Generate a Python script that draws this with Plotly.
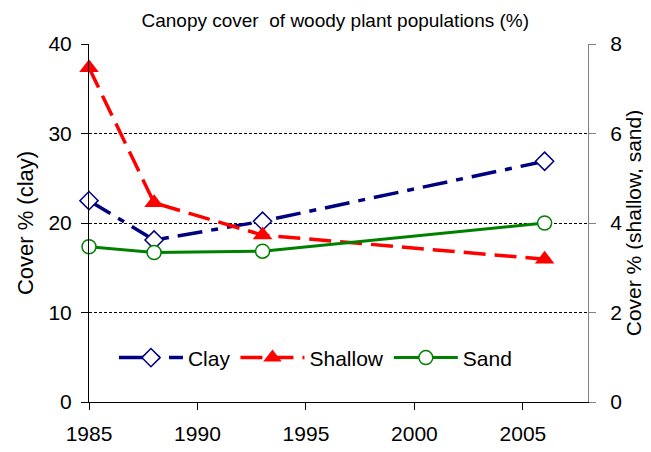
import plotly.graph_objects as go

years = [1985, 1988, 1993, 2006]
clay = [22.5, 18.1, 20.2, 26.9]
shallow = [7.47, 4.45, 3.73, 3.19]
sand = [3.47, 3.34, 3.37, 4.0]

font = "Liberation Sans, Arial, sans-serif"

fig = go.Figure()
fig.add_trace(go.Scatter(
    x=years, y=clay, name="Clay", mode="lines+markers", yaxis="y",
    line=dict(color="#000080", width=3.5, dash="25px,9px,7px,9px"),
    marker=dict(symbol="diamond", size=14, color="white",
                line=dict(color="#000080", width=1.5)),
    cliponaxis=False))
fig.add_trace(go.Scatter(
    x=years, y=shallow, name="Shallow", mode="lines+markers", yaxis="y2",
    line=dict(color="#FF0000", width=3.5, dash="22px,9px"),
    marker=dict(symbol="triangle-up", size=17, color="#FF0000"),
    cliponaxis=False))
fig.add_trace(go.Scatter(
    x=years, y=sand, name="Sand", mode="lines+markers", yaxis="y2",
    line=dict(color="#008000", width=3),
    marker=dict(symbol="circle", size=14, color="white",
                line=dict(color="#008000", width=1.5)),
    cliponaxis=False))

fig.update_layout(
    width=643, height=444,
    margin=dict(l=81, r=63, t=36, b=50),
    paper_bgcolor="white", plot_bgcolor="white",
    font=dict(family=font, size=21, color="black"),
    title=dict(text="Canopy cover  of woody plant populations (%)",
               x=0.509, xanchor="center", y=0.973, yanchor="middle",
               font=dict(size=19)),
    xaxis=dict(range=[1985, 2008], tickvals=[1985, 1990, 1995, 2000, 2005],
               ticks="outside", ticklen=7, tickcolor="black",
               showline=True, linecolor="black", linewidth=1,
               showgrid=False, zeroline=False, tickfont=dict(size=21),
               automargin=False, ticklabelstandoff=6),
    yaxis=dict(range=[0, 40], dtick=10, ticks="outside", ticklen=7,
               tickcolor="black", showline=True, linecolor="black",
               showgrid=True, gridcolor="black", griddash="3px,2px", gridwidth=0.8,
               zeroline=False, automargin=False, ticklabelstandoff=5,
               tickfont=dict(size=21),
               title=dict(text="Cover % (clay)", font=dict(size=22), standoff=8)),
    yaxis2=dict(range=[0, 8], dtick=2, overlaying="y", side="right",
                ticks="outside", ticklen=7, tickcolor="#808080",
                showline=True, linecolor="#808080", showgrid=False,
                zeroline=False, automargin=False, ticklabelstandoff=10,
                tickfont=dict(size=21),
                title=dict(text="Cover % (shallow, sand)", font=dict(size=21), standoff=3)),
    legend=dict(orientation="h", x=0.05, y=0.123, xanchor="left", yanchor="middle",
                bgcolor="rgba(0,0,0,0)", font=dict(size=21), itemwidth=64),
    showlegend=True,
)

fig.write_html("out.html")
